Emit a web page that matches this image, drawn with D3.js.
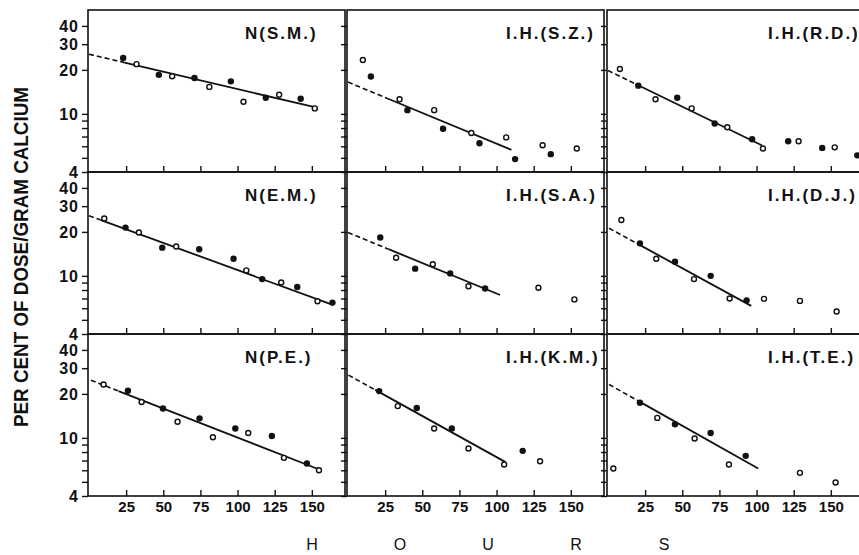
<!DOCTYPE html>
<html><head><meta charset="utf-8">
<script src="https://cdn.jsdelivr.net/npm/d3@7"></script>
<style>body{margin:0;background:#fff}svg{display:block}text{font-family:"Liberation Sans",Arial,sans-serif;fill:#111}</style>
</head><body>
<svg id="c" width="859" height="555"></svg>
<script>
// ---- data ----
const panelNames = ["N(S.M.)","I.H.(S.Z.)","I.H.(R.D.)","N(E.M.)","I.H.(S.A.)","I.H.(D.J.)","N(P.E.)","I.H.(K.M.)","I.H.(T.E.)"];
const filledPts = [
  [[23,24.1],[47,18.5],[71,17.6],[95.5,16.7],[119,12.9],[142.5,12.7]],
  [[15.4,18.0],[40,10.6],[64,7.9],[88.5,6.3],[112.5,4.9],[136.5,5.3]],
  [[20.4,15.6],[46.6,12.9],[71.8,8.6],[97,6.7],[121.3,6.5],[144.2,5.85],[167.8,5.2]],
  [[24.6,21.4],[49.3,15.6],[74.2,15.2],[97.3,13.1],[116.6,9.5],[140.2,8.4],[163.9,6.56]],
  [[21.7,18.3],[45.2,11.2],[68.8,10.4],[92.3,8.2]],
  [[21.5,16.7],[45.1,12.5],[69.1,10.0],[93.3,6.8]],
  [[26.2,21.0],[49.8,15.9],[74.4,13.6],[98.5,11.6],[123.1,10.3],[146.7,6.68]],
  [[21,20.9],[46.3,16.0],[69.9,11.6],[117.6,8.15]],
  [[21.5,17.4],[45.1,12.4],[69.1,10.8],[92.7,7.53]]
];
const openPts = [
  [[32,21.9],[56,18.1],[81,15.3],[104,12.1],[128,13.5],[152,10.9]],
  [[10,23.4],[34.7,12.6],[58,10.6],[83,7.4],[106.5,6.9],[131,6.1],[154,5.8]],
  [[8,20.3],[32,12.6],[56.3,10.9],[80.3,8.1],[104.3,5.8],[128.3,6.5],[152.6,5.9]],
  [[10.3,24.7],[33.6,19.8],[58.7,15.9],[105.9,10.9],[129.4,9.0],[153.8,6.7]],
  [[32.4,13.3],[57.1,12.0],[81.1,8.5],[128.2,8.3],[152.4,6.9]],
  [[9,24.1],[32.5,13.1],[57.9,9.5],[81.9,7.0],[105,6.96],[129.2,6.74],[153.9,5.7]],
  [[9.8,23.2],[35.4,17.6],[59.6,12.9],[83.4,10.1],[107.2,10.8],[131.2,7.3],[154.8,6.0]],
  [[33.5,16.5],[58,11.6],[81.1,8.46],[105.1,6.57],[129.3,6.92]],
  [[3.6,6.17],[33.2,13.7],[58.3,9.9],[81.4,6.57],[129.2,5.76],[153.2,4.95]]
];
// fitted line: [start hour, start value, solid-from hour, end hour, end value]
const fitLines = [
  [0,25.6,24,152,11.1],
  [0,16.5,27,110,5.67],
  [0,19.8,18.6,103.8,6.07],
  [0,25.8,7.6,164.6,6.3],
  [0,19.8,27.3,102.4,7.4],
  [0.7,21.2,19.7,96.4,6.23],
  [1.3,24.8,19.9,154.5,6.1],
  [0.3,26.9,18.3,105.8,6.85],
  [0.7,23.2,19.7,101.1,6.17]
];
const xTicks = [25,50,75,100,125,150];
const yTicks = [4,5,6,7,8,9,10,20,30,40];
const yLabels = [4,10,20,30,40];
const xTitle = "HOURS";
const yTitle = "PER CENT OF DOSE/GRAM CALCIUM";

// ---- layout ----
const svg = d3.select("#c");
const colLefts = [88,347,607], rowTops = [10,172,334];
const W = 257, H = 162;
const x = d3.scaleLinear().domain([0,173]).range([1,W+1]);
const y = d3.scaleLog().domain([4,51.4]).range([H,0]);

panelNames.forEach((name,i)=>{
  const c = i%3, r = Math.floor(i/3);
  const g = svg.append("g").attr("transform",`translate(${colLefts[c]},${rowTops[r]})`);
  g.append("rect").attr("width",W).attr("height",H).attr("fill","none").attr("stroke","#111").attr("stroke-width",1.6);
  // y ticks (outward)
  const ya = d3.axisLeft(y).tickValues(yTicks).tickSize(6).tickFormat(d=> (c===0 && yLabels.includes(d)) ? d : "");
  const yg = g.append("g").call(ya);
  yg.select(".domain").remove();
  yg.selectAll("line").attr("stroke","#111").attr("stroke-width",1.4);
  yg.selectAll("text").attr("font-size",16).attr("font-weight","bold").attr("letter-spacing",1).attr("x",-9).attr("dy","0.36em").style("fill","#111");
  // x ticks (inward, up)
  const xa = d3.axisBottom(x).tickValues(xTicks).tickSize(-6).tickFormat(d=> r===2 ? d : "");
  const xg = g.append("g").attr("transform",`translate(0,${H})`).call(xa);
  xg.select(".domain").remove();
  xg.selectAll("line").attr("stroke","#111").attr("stroke-width",1.4);
  xg.selectAll("text").attr("font-size",15).attr("font-weight","bold").attr("y",5).attr("dy","0.71em").style("fill","#111");
  // title
  g.append("text").attr("x",157 + c*2).attr("y",29).attr("font-size",17).attr("font-weight","bold").attr("letter-spacing",2).text(name);
  // fit line
  const L = fitLines[i];
  const slope = (Math.log10(L[4])-Math.log10(L[1]))/(L[3]-L[0]);
  const vAt = h => Math.pow(10, Math.log10(L[1]) + slope*(h-L[0]));
  g.append("line").attr("x1",x(L[0])).attr("y1",y(L[1])).attr("x2",x(L[2])).attr("y2",y(vAt(L[2])))
    .attr("stroke","#111").attr("stroke-width",1.6).attr("stroke-dasharray","5,3");
  g.append("line").attr("x1",x(L[2])).attr("y1",y(vAt(L[2]))).attr("x2",x(L[3])).attr("y2",y(L[4]))
    .attr("stroke","#111").attr("stroke-width",1.8);
  // points
  g.selectAll(".o").data(openPts[i]).join("circle").attr("cx",d=>x(d[0])).attr("cy",d=>y(d[1])).attr("r",2.5)
    .attr("fill","#fff").attr("stroke","#111").attr("stroke-width",1.4);
  g.selectAll(".f").data(filledPts[i]).join("circle").attr("cx",d=>x(d[0])).attr("cy",d=>y(d[1])).attr("r",3.2)
    .attr("fill","#111");
});

// axis titles
xTitle.split("").forEach((ch,k)=>{
  svg.append("text").attr("x",312 + k*88).attr("y",544).attr("dy","0.35em").attr("text-anchor","middle").attr("font-size",16).text(ch);
});
svg.append("text").attr("transform","translate(28,257) rotate(-90)").attr("text-anchor","middle")
  .attr("font-size",20).attr("font-weight","bold").attr("textLength",340).attr("lengthAdjust","spacingAndGlyphs").text(yTitle);
</script>
</body></html>
